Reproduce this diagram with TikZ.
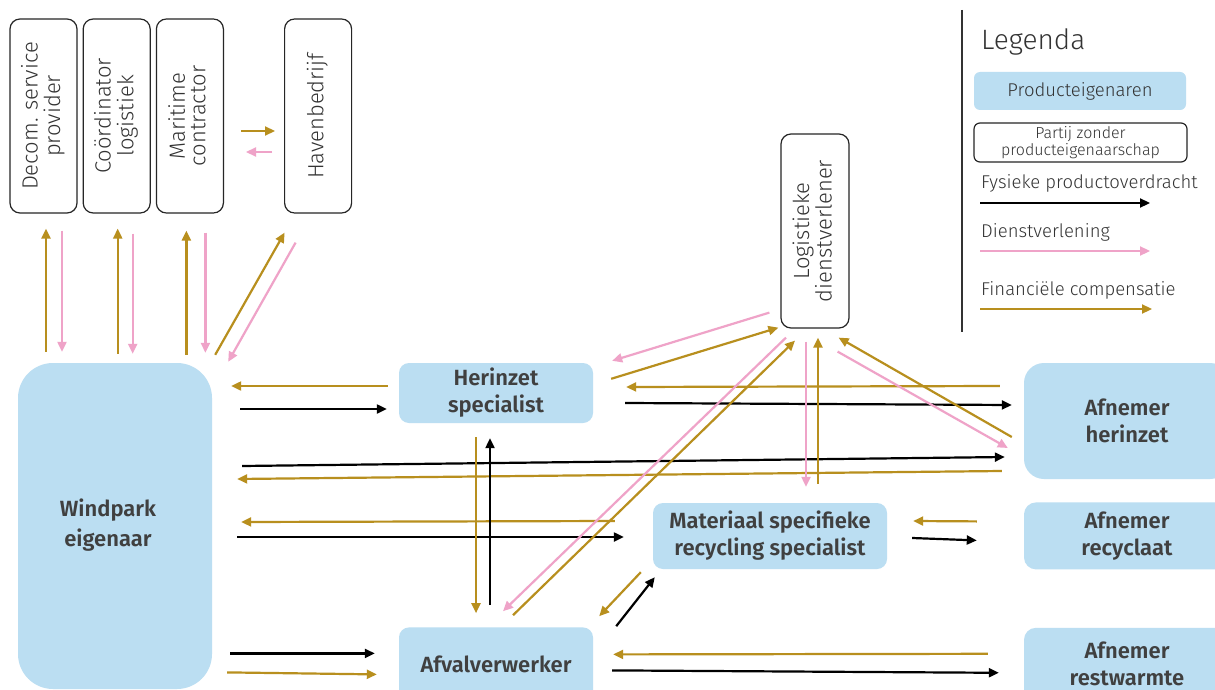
\documentclass[tikz,border=0pt]{standalone}
\usepackage{fontspec}
\IfFontExistsTF{Fira Sans Light}{%
  \IfFontExistsTF{Fira Sans SemiBold}%
    {\setmainfont{Fira Sans Light}[BoldFont={Fira Sans SemiBold}]}%
    {\setmainfont{Fira Sans Light}[BoldFont={Fira Sans}]}}%
  {\setmainfont{Fira Sans}}
\usepackage{tikz}
\usetikzlibrary{arrows.meta, positioning}
\definecolor{ownerblue}{RGB}{187,222,242}
\definecolor{fingold}{RGB}{184,143,30}
\definecolor{servpink}{RGB}{239,163,200}
\definecolor{labelgray}{RGB}{64,64,64}
\definecolor{thingray}{RGB}{51,51,51}
\tikzstyle{owner} = [rectangle, fill=ownerblue, align=center, text=labelgray, font=\fontsize{22}{27}\selectfont\bfseries, inner sep=0pt, rounded corners=10pt]
\tikzstyle{party} = [rectangle, draw=black!85, line width=1.2pt, fill=white, align=center, text=thingray, font=\fontsize{22}{20}\selectfont, inner sep=0pt, rounded corners=10pt, minimum width=67pt, minimum height=194pt]
\tikzstyle{legendtext} = [anchor=base west, inner sep=0pt, text=thingray, font=\fontsize{18.5}{22}\selectfont]
\tikzstyle{phys} = [->, line width=2.2pt, black]
\tikzstyle{serv} = [->, line width=2.2pt, servpink]
\tikzstyle{fin} = [->, line width=2.2pt, fingold]
\newcommand{\sidelabel}[1]{\rotatebox{90}{\begin{tabular}{@{}c@{}}#1\end{tabular}}}

\begin{document}
\begin{tikzpicture}[x=1pt, y=-1pt, >={Triangle[length=10pt,width=9pt]}]
\useasboundingbox (0,0) rectangle (1215,690);
\fill[white] (0,0) rectangle (1215,690);

% Top row - parties without ownership
\node[party] (dsp) at (43.5,116) {\sidelabel{Decom. service\\provider}};
\node[party, right=5pt of dsp] (cl) {\sidelabel{Coördinator\\logistiek}};
\node[party, right=5pt of cl] (mc) {\sidelabel{Maritime\\contractor}};
\node[party, right=60pt of mc] (hb) {\sidelabel{Havenbedrijf}};
\node[party, minimum width=68pt] (ld) at (815,231) {\sidelabel{Logistieke\\dienstverlener}};

% Product owners
\node[owner, minimum width=194pt, minimum height=326pt, rounded corners=35pt] (wp) at (115,526) {\raisebox{-5pt}{\hspace*{-14pt}\begin{tabular}{@{}c@{}}Windpark\\[3pt]eigenaar\end{tabular}}};
\node[owner, minimum width=194pt, minimum height=60pt] (her) at (496,393) {Herinzet\\specialist};
\node[owner, minimum width=194pt, minimum height=73pt, below=204pt of her] (afv) {Afvalverwerker};
\node[owner, minimum width=234pt, minimum height=66pt] (mat) at (770,536) {Materiaal specifieke\\recycling specialist};
\node[owner, minimum width=206pt, minimum height=116pt, rounded corners=20pt] (ah) at (1127,421) {Afnemer\\herinzet};
\node[owner, minimum width=206pt, minimum height=67pt, rounded corners=12pt, below=23pt of ah] (ar) {Afnemer\\recyclaat};
\node[owner, minimum width=206pt, minimum height=73pt, rounded corners=12pt, below=58pt of ar] (aw) {Afnemer\\restwarmte};

% Legend
\draw[line width=2pt, black!80] (962,10) -- (962,332);
\node[legendtext, font=\fontsize{28}{32}\selectfont] (lgtitle) at (981,50) {Legenda};
\node[owner, font=\fontsize{18.5}{22}\selectfont, text=thingray, minimum width=212pt, minimum height=38pt, rounded corners=6pt] (lgowner) at (1080,91) {Producteigenaren};
\node[party, font=\fontsize{16}{17.5}\selectfont, minimum width=213pt, minimum height=39pt, rounded corners=6pt] (lgparty) at (1080.5,142.5) {Partij zonder\\producteigenaarschap};
\node[legendtext] (lgphys) at (981,188) {Fysieke productoverdracht};
\draw[phys] ([shift={(-1,15)}]lgphys.base west) -- ++(170,0);
\node[legendtext] (lgserv) at (981,237) {Dienstverlening};
\draw[serv] ([shift={(-1,14)}]lgserv.base west) -- ++(170,0);
\node[legendtext] (lgfin) at (981,295) {Financiële compensatie};
\draw[fin] ([shift={(-1,14)}]lgfin.base west) -- ++(172,0);

% Windpark eigenaar <-> top row
\draw[fin]  ([shift={(2.5,-11)}]dsp.south |- wp.north) -- ([shift={(2.5,15)}]dsp.south);
\draw[serv] ([shift={(18.5,17)}]dsp.south) -- ([shift={(18.5,-11)}]dsp.south |- wp.north);
\draw[fin]  ([shift={(1,-9)}]cl.south |- wp.north) -- ([shift={(1,15)}]cl.south);
\draw[serv] ([shift={(16,20)}]cl.south) -- ([shift={(16,-9)}]cl.south |- wp.north);
\draw[fin]  ([shift={(-3.5,-8)}]mc.south |- wp.north) -- ([shift={(-3.5,17)}]mc.south);
\draw[serv] ([shift={(15.5,19)}]mc.south) -- ([shift={(15.5,-10)}]mc.south |- wp.north);
\draw[fin]  ([shift={(3,-8)}]wp.north east) -- ([shift={(-33.5,19)}]hb.south);
\draw[serv] ([shift={(-22.5,29)}]hb.south) -- ([shift={(16,-1)}]wp.north east);

% Maritime contractor <-> Havenbedrijf
\draw[fin]  ([shift={(17,15)}]mc.east) -- ([shift={(-9,15)}]hb.west);
\draw[serv] ([shift={(-12,36)}]hb.west) -- ([shift={(22,36)}]mc.east);

% Windpark eigenaar <-> buyers and processors
\draw[fin]  ([shift={(-11,-7)}]her.west) -- ([shift={(19,-7)}]her.west -| wp.east);
\draw[phys] ([shift={(28,16)}]her.west -| wp.east) -- ([shift={(-12,16)}]her.west);
\draw[phys] ([shift={(30,-60)}]wp.east) -- ([shift={(-19,36)}]ah.west);
\draw[fin]  ([shift={(-22,50)}]ah.west) -- ([shift={(25,-47)}]wp.east);
\draw[fin]  ([shift={(-38,-15)}]mat.west) -- ([shift={(29,-4)}]wp.east);
\draw[phys] ([shift={(25,11)}]wp.east) -- ([shift={(-29,1)}]mat.west);
\draw[phys] ([shift={(18,-10.5)}]afv.west -| wp.east) -- ([shift={(-24,-10.5)}]afv.west);
\draw[fin]  ([shift={(15,8.5)}]afv.west -| wp.east) -- ([shift={(-22,10.5)}]afv.west);

% Herinzet specialist
\draw[fin]  ([shift={(-20,14)}]her.south) -- ([shift={(-20,-14)}]afv.north);
\draw[phys] ([shift={(-6,-22)}]afv.north) -- ([shift={(-6,15)}]her.south);
\draw[serv] ([shift={(-11,-16)}]ld.south west) -- ([shift={(19,-2)}]her.north east);
\draw[fin]  ([shift={(18,16)}]her.north east) -- ([shift={(-2,-1)}]ld.south west);
\draw[fin]  ([shift={(-24,-35)}]ah.west) -- ([shift={(33,-6)}]her.east);
\draw[phys] ([shift={(32,10)}]her.east) -- ([shift={(-12,-16)}]ah.west);

% Logistieke dienstverlener
\draw[serv] ([shift={(-29,9)}]ld.south) -- ([shift={(7,-16)}]afv.north);
\draw[fin]  ([shift={(17,-12)}]afv.north) -- ([shift={(-20,12)}]ld.south);
\draw[serv] ([shift={(-9,13)}]ld.south) -- ([shift={(36,-16)}]mat.north);
\draw[fin]  ([shift={(48,-19)}]mat.north) -- ([shift={(3,9)}]ld.south);
\draw[fin]  ([shift={(-12,16)}]ah.west) -- ([shift={(-11,9)}]ld.south east);
\draw[serv] ([shift={(-12,23)}]ld.south east) -- ([shift={(-16,27)}]ah.west);

% Recycling and residual heat
\draw[fin]  ([shift={(-12,3)}]mat.south west) -- ([shift={(6,-11)}]afv.north east);
\draw[phys] ([shift={(23,-1)}]afv.north east) -- ([shift={(2,8)}]mat.south west);
\draw[fin]  ([shift={(-47,-14.5)}]ar.west) -- ([shift={(26,-15)}]mat.east);
\draw[phys] ([shift={(25,2)}]mat.east) -- ([shift={(-47,4.5)}]ar.west);
\draw[fin]  ([shift={(-36,-10.5)}]aw.west) -- ([shift={(20,-9.5)}]afv.east);
\draw[phys] ([shift={(19,6.5)}]afv.east) -- ([shift={(-25,8.5)}]aw.west);

\end{tikzpicture}
\end{document}
